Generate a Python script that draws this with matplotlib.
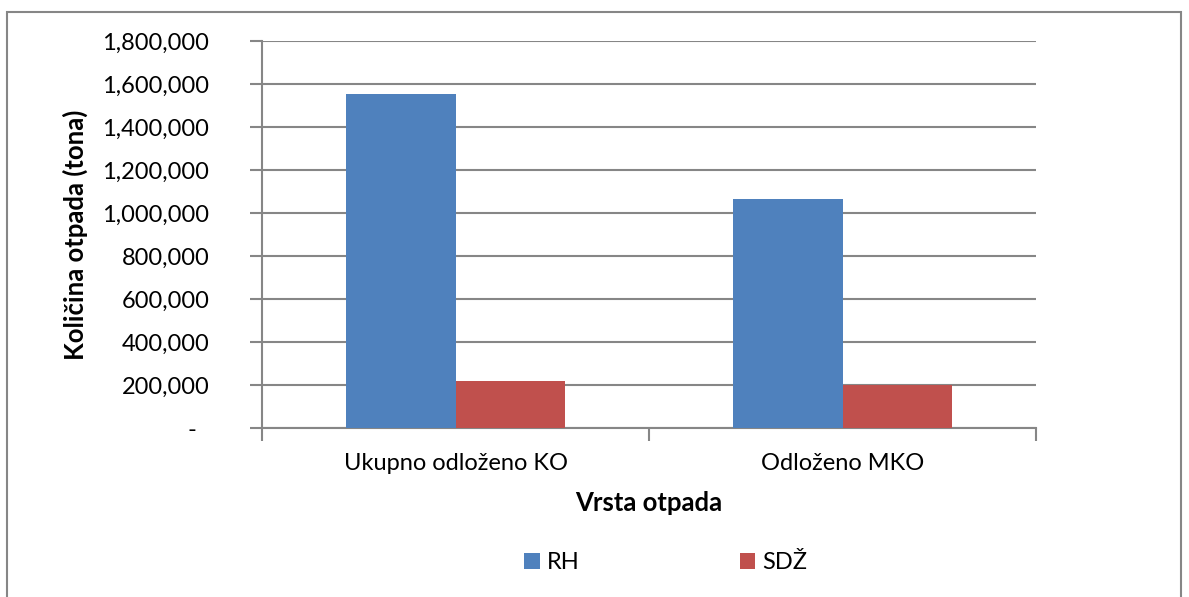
import matplotlib.pyplot as plt
import numpy as np
from matplotlib.patches import Rectangle
from matplotlib.ticker import FuncFormatter

categories = ["Ukupno odloženo KO", "Odloženo MKO"]
series_names = ["RH", "SDŽ"]
rh_values = [1553000, 1067000]
sdz_values = [220000, 200000]
colors = ["#4F81BD", "#C0504D"]

plt.rcParams['font.family'] = ['Lato', 'DejaVu Sans']
grid_color = "#868686"


def fmt(v, pos):
    if v == 0:
        return "-  "
    return "{:,.0f}".format(v)


def main():
    fig = plt.figure(figsize=(11.89, 5.97), dpi=100)
    ax = fig.add_axes([0.2204, 0.2826, 0.651, 0.6487])

    x = np.arange(len(categories))
    w = 0.284
    ax.bar(x - w / 2, rh_values, w, color=colors[0], label=series_names[0], zorder=3)
    ax.bar(x + w / 2, sdz_values, w, color=colors[1], label=series_names[1], zorder=3)

    ax.set_xlim(-0.5, len(categories) - 0.5)
    ax.set_ylim(0, 1800000)
    ax.set_yticks(np.arange(0, 1800001, 200000))
    ax.yaxis.set_major_formatter(FuncFormatter(fmt))
    ax.grid(axis='y', color=grid_color, linewidth=1.5, zorder=0)

    ax.set_xticks(x)
    ax.set_xticklabels(categories, fontsize=17)
    ax.set_xticks(np.arange(-0.5, len(categories), 1), minor=True)
    ax.tick_params(axis='x', which='major', length=0, pad=18)
    ax.tick_params(axis='x', which='minor', length=9, color=grid_color, width=1.5)
    ax.tick_params(axis='y', length=9, color=grid_color, width=1.5, labelsize=17, pad=29)

    for s in ['top', 'right']:
        ax.spines[s].set_visible(False)
    for s in ['left', 'bottom']:
        ax.spines[s].set_color(grid_color)
        ax.spines[s].set_linewidth(1.5)

    ax.set_xlabel("Vrsta otpada", fontsize=18.5, fontweight='bold', labelpad=12)
    ax.set_ylabel("Količina otpada (tona)", fontsize=18.5, fontweight='bold', labelpad=10)

    fig.legend(loc='center', bbox_to_anchor=(0.56, 0.057), ncol=2, frameon=False,
               fontsize=17, handlelength=0.64, handleheight=0.64, handletextpad=0.3,
               columnspacing=6.8)

    fig.patches.append(Rectangle((7 / 1189, -0.05), 1174 / 1189, 1.05 - 12 / 597,
                                 transform=fig.transFigure, fill=False,
                                 edgecolor=grid_color, linewidth=1.5))

    fig.savefig("out.png", dpi=100)
    plt.close(fig)


if __name__ == "__main__":
    main()
